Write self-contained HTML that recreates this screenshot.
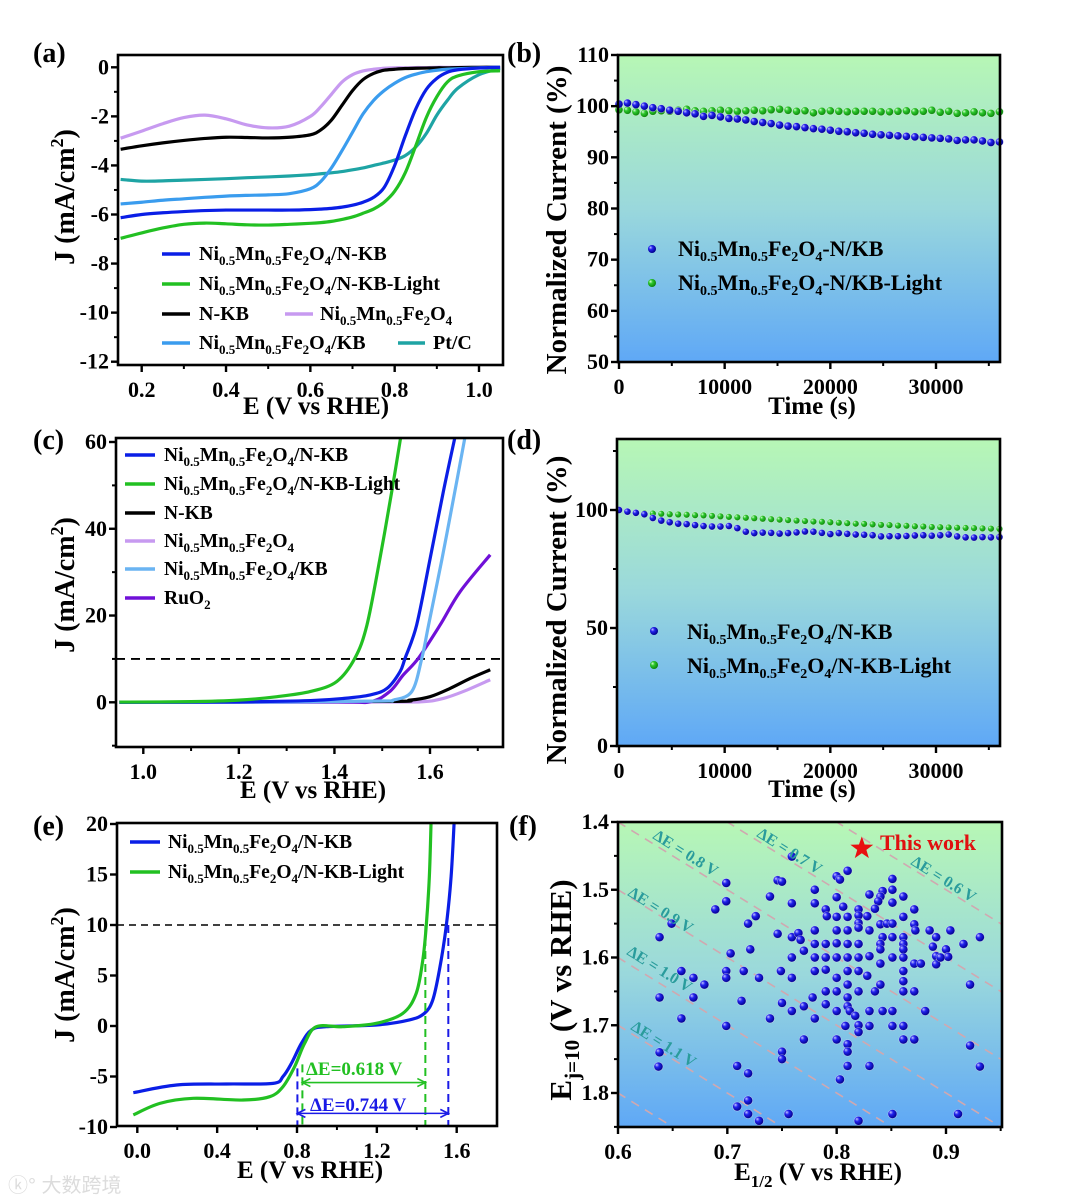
<!DOCTYPE html>
<html><head><meta charset="utf-8">
<style>
html,body{margin:0;padding:0;background:#fff;width:1080px;height:1202px;overflow:hidden;}
svg{display:block;font-family:"Liberation Serif","Noto Serif CJK SC",serif;font-weight:bold;}
.tk{font-size:22px;}
.lg{font-size:20px;}
.s{font-size:13px;}
.ti{font-size:25px;}
.pl{font-size:28px;}
</style></head>
<body>
<svg id="fig" width="1080" height="1202" viewBox="0 0 1080 1202" xmlns="http://www.w3.org/2000/svg">
<defs>
<linearGradient id="bg" x1="0" y1="0" x2="0" y2="1">
<stop offset="0" stop-color="#b7f7b5"/><stop offset="0.5" stop-color="#9ad8dc"/><stop offset="1" stop-color="#5fa8f6"/>
</linearGradient>
<radialGradient id="sb" cx="0.4" cy="0.4" r="0.6" fx="0.3" fy="0.3">
<stop offset="0" stop-color="#c8c8ff"/><stop offset="0.4" stop-color="#2222ee"/><stop offset="1" stop-color="#00008c"/>
</radialGradient>
<radialGradient id="sg" cx="0.4" cy="0.4" r="0.6" fx="0.3" fy="0.3">
<stop offset="0" stop-color="#d8ffd8"/><stop offset="0.4" stop-color="#2ec82e"/><stop offset="1" stop-color="#0a860a"/>
</radialGradient>
<clipPath id="cA"><rect x="118" y="55" width="385" height="310"/></clipPath>
<clipPath id="cC"><rect x="116" y="438" width="387" height="309"/></clipPath>
<clipPath id="cE"><rect x="117" y="823" width="380" height="303"/></clipPath>
<clipPath id="cF"><rect x="618" y="822" width="384" height="305"/></clipPath>
</defs>

<rect x="618" y="55" width="382" height="307" fill="url(#bg)"/>
<rect x="617" y="439" width="383" height="307" fill="url(#bg)"/>
<rect x="618" y="822" width="384" height="305" fill="url(#bg)"/>

<g id="gA"></g>
<g id="gB"></g>
<g id="gC"></g>
<g id="gD"></g>
<g id="gE"></g>
<g id="gF"></g>

<text class="pl" x="33" y="62">(a)</text>
<text class="pl" x="507" y="62">(b)</text>
<text class="pl" x="33" y="449">(c)</text>
<text class="pl" x="507" y="449">(d)</text>
<text class="pl" x="33" y="835">(e)</text>
<text class="pl" x="509" y="835">(f)</text>

<text style="font-size:28px" text-anchor="middle" transform="translate(74,197) rotate(-90)">J (mA/cm<tspan dy="-11" font-size="18">2</tspan><tspan dy="11">)</tspan></text>
<text class="ti" text-anchor="middle" x="316" y="414">E (V vs RHE)</text>
<text style="font-size:29px" text-anchor="middle" transform="translate(566,220) rotate(-90)">Normalized Current (%)</text>
<text class="ti" text-anchor="middle" x="812" y="414">Time (s)</text>
<text style="font-size:28px" text-anchor="middle" transform="translate(74,585) rotate(-90)">J (mA/cm<tspan dy="-11" font-size="18">2</tspan><tspan dy="11">)</tspan></text>
<text class="ti" text-anchor="middle" x="313" y="798">E (V vs RHE)</text>
<text style="font-size:29px" text-anchor="middle" transform="translate(566,610) rotate(-90)">Normalized Current (%)</text>
<text class="ti" text-anchor="middle" x="812" y="797">Time (s)</text>
<text style="font-size:28px" text-anchor="middle" transform="translate(74,975) rotate(-90)">J (mA/cm<tspan dy="-11" font-size="18">2</tspan><tspan dy="11">)</tspan></text>
<text class="ti" text-anchor="middle" x="310" y="1178">E (V vs RHE)</text>
<text style="font-size:31px" text-anchor="middle" transform="translate(571,990) rotate(-90)">E<tspan dy="8" font-size="21">j=10</tspan><tspan dy="-8"> (V vs RHE)</tspan></text>
<text class="ti" text-anchor="middle" x="818" y="1180">E<tspan dy="7" font-size="17">1/2</tspan><tspan dy="-7"> (V vs RHE)</tspan></text>

<g>
<line x1="162" y1="254" x2="190" y2="254" stroke="#0a1ee6" stroke-width="3.5"/>
<text class="lg" x="199" y="260">Ni<tspan class="s" dy="5">0.5</tspan><tspan dy="-5">Mn</tspan><tspan class="s" dy="5">0.5</tspan><tspan dy="-5">Fe</tspan><tspan class="s" dy="5">2</tspan><tspan dy="-5">O</tspan><tspan class="s" dy="5">4</tspan><tspan dy="-5">/N-KB</tspan></text>
<line x1="162" y1="284" x2="190" y2="284" stroke="#22c022" stroke-width="3.5"/>
<text class="lg" x="199" y="290">Ni<tspan class="s" dy="5">0.5</tspan><tspan dy="-5">Mn</tspan><tspan class="s" dy="5">0.5</tspan><tspan dy="-5">Fe</tspan><tspan class="s" dy="5">2</tspan><tspan dy="-5">O</tspan><tspan class="s" dy="5">4</tspan><tspan dy="-5">/N-KB-Light</tspan></text>
<line x1="162" y1="314" x2="190" y2="314" stroke="#000" stroke-width="3.5"/>
<text class="lg" x="199" y="320">N-KB</text>
<line x1="285" y1="314" x2="313" y2="314" stroke="#c79af0" stroke-width="3.5"/>
<text class="lg" x="320" y="320">Ni<tspan class="s" dy="5">0.5</tspan><tspan dy="-5">Mn</tspan><tspan class="s" dy="5">0.5</tspan><tspan dy="-5">Fe</tspan><tspan class="s" dy="5">2</tspan><tspan dy="-5">O</tspan><tspan class="s" dy="5">4</tspan></text>
<line x1="162" y1="343" x2="190" y2="343" stroke="#3a9cee" stroke-width="3.5"/>
<text class="lg" x="199" y="349">Ni<tspan class="s" dy="5">0.5</tspan><tspan dy="-5">Mn</tspan><tspan class="s" dy="5">0.5</tspan><tspan dy="-5">Fe</tspan><tspan class="s" dy="5">2</tspan><tspan dy="-5">O</tspan><tspan class="s" dy="5">4</tspan><tspan dy="-5">/KB</tspan></text>
<line x1="398" y1="343" x2="425" y2="343" stroke="#1ea4a4" stroke-width="3.5"/>
<text class="lg" x="433" y="349">Pt/C</text>
</g>

<g>
<circle cx="652" cy="249" r="4" fill="url(#sb)"/>
<text style="font-size:22px" x="678" y="256">Ni<tspan font-size="14" dy="5">0.5</tspan><tspan dy="-5">Mn</tspan><tspan font-size="14" dy="5">0.5</tspan><tspan dy="-5">Fe</tspan><tspan font-size="14" dy="5">2</tspan><tspan dy="-5">O</tspan><tspan font-size="14" dy="5">4</tspan><tspan dy="-5">-N/KB</tspan></text>
<circle cx="652" cy="283" r="4" fill="url(#sg)"/>
<text style="font-size:22px" x="678" y="290">Ni<tspan font-size="14" dy="5">0.5</tspan><tspan dy="-5">Mn</tspan><tspan font-size="14" dy="5">0.5</tspan><tspan dy="-5">Fe</tspan><tspan font-size="14" dy="5">2</tspan><tspan dy="-5">O</tspan><tspan font-size="14" dy="5">4</tspan><tspan dy="-5">-N/KB-Light</tspan></text>
</g>

<g>
<line x1="125" y1="455" x2="155" y2="455" stroke="#0a1ee6" stroke-width="3.5"/>
<text style="font-size:19.5px" x="164" y="461">Ni<tspan class="s" dy="5">0.5</tspan><tspan dy="-5">Mn</tspan><tspan class="s" dy="5">0.5</tspan><tspan dy="-5">Fe</tspan><tspan class="s" dy="5">2</tspan><tspan dy="-5">O</tspan><tspan class="s" dy="5">4</tspan><tspan dy="-5">/N-KB</tspan></text>
<line x1="125" y1="484" x2="155" y2="484" stroke="#22c022" stroke-width="3.5"/>
<text style="font-size:19.5px" x="164" y="490">Ni<tspan class="s" dy="5">0.5</tspan><tspan dy="-5">Mn</tspan><tspan class="s" dy="5">0.5</tspan><tspan dy="-5">Fe</tspan><tspan class="s" dy="5">2</tspan><tspan dy="-5">O</tspan><tspan class="s" dy="5">4</tspan><tspan dy="-5">/N-KB-Light</tspan></text>
<line x1="125" y1="513" x2="155" y2="513" stroke="#000" stroke-width="3.5"/>
<text style="font-size:19.5px" x="164" y="519">N-KB</text>
<line x1="125" y1="541" x2="155" y2="541" stroke="#c79af0" stroke-width="3.5"/>
<text style="font-size:19.5px" x="164" y="547">Ni<tspan class="s" dy="5">0.5</tspan><tspan dy="-5">Mn</tspan><tspan class="s" dy="5">0.5</tspan><tspan dy="-5">Fe</tspan><tspan class="s" dy="5">2</tspan><tspan dy="-5">O</tspan><tspan class="s" dy="5">4</tspan></text>
<line x1="125" y1="569" x2="155" y2="569" stroke="#6ab4f2" stroke-width="3.5"/>
<text style="font-size:19.5px" x="164" y="575">Ni<tspan class="s" dy="5">0.5</tspan><tspan dy="-5">Mn</tspan><tspan class="s" dy="5">0.5</tspan><tspan dy="-5">Fe</tspan><tspan class="s" dy="5">2</tspan><tspan dy="-5">O</tspan><tspan class="s" dy="5">4</tspan><tspan dy="-5">/KB</tspan></text>
<line x1="125" y1="598" x2="155" y2="598" stroke="#7010d8" stroke-width="3.5"/>
<text style="font-size:19.5px" x="164" y="604">RuO<tspan class="s" dy="5">2</tspan></text>
</g>

<g>
<circle cx="654" cy="631" r="4" fill="url(#sb)"/>
<text style="font-size:22px" x="687" y="639">Ni<tspan font-size="14" dy="5">0.5</tspan><tspan dy="-5">Mn</tspan><tspan font-size="14" dy="5">0.5</tspan><tspan dy="-5">Fe</tspan><tspan font-size="14" dy="5">2</tspan><tspan dy="-5">O</tspan><tspan font-size="14" dy="5">4</tspan><tspan dy="-5">/N-KB</tspan></text>
<circle cx="654" cy="665" r="4" fill="url(#sg)"/>
<text style="font-size:22px" x="687" y="673">Ni<tspan font-size="14" dy="5">0.5</tspan><tspan dy="-5">Mn</tspan><tspan font-size="14" dy="5">0.5</tspan><tspan dy="-5">Fe</tspan><tspan font-size="14" dy="5">2</tspan><tspan dy="-5">O</tspan><tspan font-size="14" dy="5">4</tspan><tspan dy="-5">/N-KB-Light</tspan></text>
</g>

<g>
<line x1="130" y1="842" x2="160" y2="842" stroke="#0a1ee6" stroke-width="3.5"/>
<text style="font-size:19.5px" x="168" y="848">Ni<tspan class="s" dy="5">0.5</tspan><tspan dy="-5">Mn</tspan><tspan class="s" dy="5">0.5</tspan><tspan dy="-5">Fe</tspan><tspan class="s" dy="5">2</tspan><tspan dy="-5">O</tspan><tspan class="s" dy="5">4</tspan><tspan dy="-5">/N-KB</tspan></text>
<line x1="130" y1="872" x2="160" y2="872" stroke="#22c022" stroke-width="3.5"/>
<text style="font-size:19.5px" x="168" y="878">Ni<tspan class="s" dy="5">0.5</tspan><tspan dy="-5">Mn</tspan><tspan class="s" dy="5">0.5</tspan><tspan dy="-5">Fe</tspan><tspan class="s" dy="5">2</tspan><tspan dy="-5">O</tspan><tspan class="s" dy="5">4</tspan><tspan dy="-5">/N-KB-Light</tspan></text>
</g>

<text x="306" y="1075" style="font-size:19px" fill="#22c022">ΔE=0.618 V</text>
<text x="310" y="1111" style="font-size:19px" fill="#1a1ae6">ΔE=0.744 V</text>

<g fill="#2a9c9c" style="font-size:16px">
<text transform="translate(652,838) rotate(32)">ΔE = 0.8 V</text>
<text transform="translate(756,836) rotate(32)">ΔE = 0.7 V</text>
<text transform="translate(910,864) rotate(32)">ΔE = 0.6 V</text>
<text transform="translate(627,895) rotate(32)">ΔE = 0.9 V</text>
<text transform="translate(626,954) rotate(32)">ΔE = 1.0 V</text>
<text transform="translate(630,1029) rotate(32)">ΔE = 1.1 V</text>
</g>
<text x="880" y="850" style="font-size:22px" fill="#e01010">This work</text>

<text x="8" y="1192" style="font-size:20px;font-weight:normal" fill="#dcdcdc" font-family="Liberation Sans, Noto Sans CJK SC, sans-serif">ⓚ° 大数跨境</text>
</svg>

<script>
const aE = [0.15,0.20,0.25,0.30,0.35,0.40,0.45,0.50,0.55,0.60,0.625,0.65,0.675,0.70,0.725,0.75,0.775,0.80,0.825,0.85,0.875,0.90,0.925,0.95,1.0,1.05];
const aNMF_NKB = [-6.13,-6.0,-5.93,-5.88,-5.84,-5.82,-5.82,-5.82,-5.82,-5.8,-5.78,-5.75,-5.7,-5.62,-5.5,-5.3,-4.9,-4.0,-2.8,-1.7,-0.9,-0.45,-0.2,-0.1,-0.03,0];
const aNMF_Light = [-6.97,-6.75,-6.55,-6.4,-6.35,-6.38,-6.42,-6.43,-6.4,-6.36,-6.33,-6.28,-6.2,-6.1,-5.95,-5.78,-5.5,-5.05,-4.3,-3.2,-2.05,-1.2,-0.6,-0.35,-0.18,-0.14];
const aNKB = [-3.34,-3.2,-3.08,-2.98,-2.9,-2.85,-2.86,-2.88,-2.85,-2.75,-2.55,-2.15,-1.55,-0.95,-0.5,-0.25,-0.12,-0.08,-0.05,-0.04,-0.03,-0.02,-0.02,-0.01,0,0];
const aNMF = [-2.89,-2.6,-2.3,-2.05,-1.95,-2.1,-2.35,-2.47,-2.4,-2.0,-1.6,-1.1,-0.6,-0.3,-0.15,-0.08,-0.04,-0.02,-0.02,-0.01,-0.01,0,0,0,0,0];
const aNMF_KB = [-5.57,-5.5,-5.42,-5.36,-5.3,-5.25,-5.22,-5.2,-5.15,-4.95,-4.65,-4.1,-3.4,-2.65,-1.9,-1.35,-0.95,-0.65,-0.42,-0.28,-0.18,-0.12,-0.08,-0.06,-0.02,0];
const aPtC = [-4.57,-4.64,-4.63,-4.6,-4.57,-4.54,-4.5,-4.47,-4.43,-4.38,-4.34,-4.3,-4.25,-4.18,-4.1,-4.0,-3.9,-3.78,-3.6,-3.25,-2.7,-1.95,-1.35,-0.85,-0.3,-0.05];
const aXTicks = [0.2,0.4,0.6,0.8,1.0];
const aYTicks = [0,-2,-4,-6,-8,-10,-12];

const bTime = [0,800,1600,2400,3200,4000,4800,5600,6400,7200,8000,8800,9600,10400,11200,12000,12800,13600,14400,15200,16000,16800,17600,18400,19200,20000,20800,21600,22400,23200,24000,24800,25600,26400,27200,28000,28800,29600,30400,31200,32000,32800,33600,34400,35200,36000];
const bDark = [100.4,100.6,100.3,100.0,99.7,99.5,99.2,99.0,98.7,98.5,98.0,98.2,97.9,97.6,97.5,97.3,97.0,96.8,96.6,96.3,96.1,96.0,95.8,95.6,95.5,95.3,95.1,95.0,94.8,94.7,94.5,94.4,94.3,94.2,94.1,94.0,93.9,93.8,93.7,93.6,93.3,93.4,93.4,93.2,92.9,93.0];
const bLight = [99.3,99.2,98.9,98.6,99.0,99.1,99.0,99.2,99.4,99.1,99.0,99.1,99.2,99.1,99.0,99.1,99.2,99.1,99.3,99.4,99.2,99.0,99.1,98.7,99.0,99.1,99.0,98.9,99.0,99.0,99.0,98.9,98.9,99.0,99.1,98.9,99.0,99.2,98.8,99.0,98.6,98.7,98.9,98.7,98.6,98.9];
const bXTicks = [0,10000,20000,30000];
const bYTicks = [50,60,70,80,90,100,110];

const cLightE = [0.95,1.1,1.2,1.28,1.35,1.405,1.443,1.468,1.495,1.52,1.54];
const cLightJ = [0.05,0.15,0.5,1.3,2.5,4.8,10.2,17.8,33,48.6,62];
const cDarkE = [0.95,1.2,1.35,1.42,1.475,1.51,1.537,1.548,1.572,1.6,1.628,1.652];
const cDarkJ = [0,0.1,0.4,0.9,1.7,3.2,7,10.2,17.8,33,48.6,61];
const cKBE = [0.95,1.3,1.5,1.523,1.562,1.583,1.597,1.625,1.652,1.673];
const cKBJ = [0,0.05,0.3,0.5,2.5,10.2,17.8,33,48.6,61];
const cRuE = [0.95,1.4,1.475,1.516,1.544,1.576,1.621,1.663,1.726];
const cRuJ = [0,0.05,0.15,2.5,6.3,10.2,17.8,25.5,34];
const cNKBE = [0.95,1.5,1.558,1.6,1.642,1.684,1.726];
const cNKBJ = [0,0.2,0.5,1.3,3.2,5.5,7.5];
const cNMFE = [0.95,1.5,1.586,1.628,1.67,1.726];
const cNMFJ = [0,0.05,0.15,0.9,2.5,5.2];
const cXTicks = [1.0,1.2,1.4,1.6];
const cYTicks = [0,20,40,60];
const cRefJ = 10;

const dTime = bTime;
const dDark = [100,99.3,98.8,98.2,96.6,95.5,94.8,94.2,94.0,93.6,93.2,93.0,93.0,93.2,92.3,90.8,90.2,90.4,90.3,90.0,90.2,90.5,90.9,90.8,90.3,89.8,90.2,89.9,89.6,89.5,89.3,88.8,88.9,88.9,89.0,89.2,89.3,89.1,89.3,89.6,88.8,88.4,88.3,88.5,88.4,88.5];
const dLight = [null,null,null,98.6,98.5,98.4,98.2,98.1,98.0,97.8,97.7,97.5,97.3,97.1,96.9,96.7,96.5,96.3,96.1,95.9,95.7,95.5,95.3,95.1,95.0,94.8,94.6,94.4,94.2,94.1,93.9,93.7,93.6,93.4,93.3,93.1,93.0,92.8,92.7,92.6,92.5,92.4,92.3,92.2,92.1,92.0];
const dYTicks = [0,50,100];

const eDarkE = [-0.02,0.197,0.447,0.68,0.73,0.772,0.822,0.872,0.947,1.197,1.363,1.438,1.48,1.513,1.547,1.572,1.588];
const eDarkJ = [-6.6,-5.84,-5.74,-5.68,-5.0,-3.7,-1.72,-0.4,-0.07,0.1,0.6,1.25,2.57,5.5,9.8,14.8,20.5];
const eLightE = [-0.02,0.113,0.28,0.53,0.663,0.73,0.788,0.838,0.897,1.03,1.197,1.33,1.397,1.43,1.447,1.463,1.472];
const eLightJ = [-8.8,-7.66,-7.16,-7.33,-7.0,-6.0,-4.03,-1.72,-0.07,-0.07,0.26,1.25,3.23,6.5,9.8,14.8,20.5];
const eHalfDark = 0.802, eHalfLight = 0.827, eJ10Dark = 1.558, eJ10Light = 1.443;
const eXTicks = [0.0,0.4,0.8,1.2,1.6];
const eYTicks = [-10,-5,0,5,10,15,20];

const fX = [0.759,0.810,0.800,0.803,0.699,0.746,0.750,0.851,0.780,0.842,0.851,0.830,0.861,0.800,0.739,0.699,0.759,0.780,0.840,0.838,0.851,0.689,0.806,0.820,0.835,0.790,0.871,0.726,0.719,0.649,0.791,0.800,0.810,0.828,0.820,0.861,0.820,0.840,0.846,0.851,0.871,0.872,0.638,0.746,0.759,0.765,0.767,0.780,0.800,0.810,0.830,0.820,0.842,0.851,0.861,0.885,0.891,0.904,0.916,0.931,0.703,0.721,0.770,0.780,0.790,0.800,0.810,0.820,0.840,0.840,0.861,0.861,0.888,0.891,0.900,0.902,0.759,0.780,0.790,0.800,0.810,0.820,0.830,0.851,0.861,0.871,0.877,0.891,0.895,0.658,0.669,0.679,0.699,0.699,0.715,0.729,0.749,0.759,0.780,0.790,0.800,0.810,0.820,0.828,0.840,0.861,0.861,0.638,0.669,0.713,0.750,0.759,0.770,0.778,0.790,0.800,0.810,0.810,0.820,0.835,0.840,0.861,0.871,0.922,0.658,0.739,0.780,0.790,0.800,0.810,0.812,0.817,0.830,0.842,0.851,0.881,0.699,0.808,0.820,0.820,0.830,0.851,0.861,0.770,0.800,0.810,0.810,0.861,0.871,0.922,0.638,0.637,0.750,0.750,0.709,0.719,0.810,0.830,0.803,0.931,0.709,0.719,0.719,0.729,0.756,0.820,0.851,0.911];
const fY = [1.451,1.472,1.480,1.485,1.490,1.486,1.488,1.484,1.500,1.502,1.500,1.507,1.510,1.511,1.510,1.517,1.520,1.520,1.510,1.517,1.519,1.529,1.525,1.529,1.528,1.529,1.529,1.539,1.550,1.550,1.539,1.540,1.540,1.539,1.538,1.540,1.549,1.551,1.550,1.550,1.551,1.560,1.570,1.565,1.570,1.564,1.574,1.560,1.560,1.560,1.560,1.556,1.570,1.570,1.570,1.560,1.570,1.560,1.580,1.570,1.594,1.588,1.590,1.580,1.580,1.579,1.580,1.580,1.580,1.588,1.580,1.588,1.584,1.598,1.588,1.599,1.600,1.600,1.600,1.600,1.600,1.600,1.598,1.600,1.600,1.609,1.609,1.610,1.600,1.620,1.630,1.640,1.620,1.630,1.620,1.630,1.620,1.630,1.620,1.618,1.630,1.620,1.620,1.627,1.609,1.620,1.635,1.659,1.659,1.664,1.667,1.679,1.672,1.659,1.650,1.650,1.640,1.659,1.650,1.650,1.640,1.650,1.650,1.640,1.690,1.690,1.690,1.669,1.679,1.672,1.679,1.686,1.679,1.679,1.679,1.679,1.701,1.701,1.700,1.710,1.701,1.701,1.701,1.721,1.721,1.728,1.739,1.721,1.721,1.730,1.740,1.761,1.739,1.750,1.760,1.771,1.760,1.760,1.780,1.761,1.820,1.811,1.831,1.841,1.831,1.841,1.831,1.831];
const fStarX = 0.823, fStarY = 1.439;
const fDeltaE = [0.6,0.7,0.8,0.9,1.0,1.1,1.2];
const fXTicks = [0.6,0.7,0.8,0.9];
const fYTicks = [1.4,1.5,1.6,1.7,1.8];

const NS = 'http://www.w3.org/2000/svg';
function lin(d0,d1,p0,p1){ return v => p0 + (v-d0)/(d1-d0)*(p1-p0); }
function mk(tag, attrs, parent){ const e=document.createElementNS(NS,tag); for(const k in attrs) e.setAttribute(k,attrs[k]); parent.appendChild(e); return e; }
function smoothPath(pts){
  if(pts.length<2) return '';
  let d='M'+pts[0][0].toFixed(2)+','+pts[0][1].toFixed(2);
  for(let i=0;i<pts.length-1;i++){
    const p0=pts[Math.max(0,i-1)], p1=pts[i], p2=pts[i+1], p3=pts[Math.min(pts.length-1,i+2)];
    const c1x=p1[0]+(p2[0]-p0[0])/6, c1y=p1[1]+(p2[1]-p0[1])/6;
    const c2x=p2[0]-(p3[0]-p1[0])/6, c2y=p2[1]-(p3[1]-p1[1])/6;
    d+='C'+c1x.toFixed(2)+','+c1y.toFixed(2)+' '+c2x.toFixed(2)+','+c2y.toFixed(2)+' '+p2[0].toFixed(2)+','+p2[1].toFixed(2);
  }
  return d;
}
function curve(g, xs, ys, sx, sy, color, clip, name){
  const pts=[]; for(let i=0;i<xs.length;i++) pts.push([sx(xs[i]), sy(ys[i])]);
  const p = mk('path',{d:smoothPath(pts), fill:'none', stroke:color, 'stroke-width':3.2, 'stroke-linejoin':'round','clip-path':'url(#'+clip+')'}, g);
  
  
}
function dots(g, xs, ys, sx, sy, fill, r, name){
  for(let i=0;i<xs.length;i++){
    if(ys[i]===null) continue;
    const c = mk('circle',{cx:sx(xs[i]), cy:sy(ys[i]), r:r, fill:fill, stroke:'#fff', 'stroke-width':0.6, 'stroke-opacity':0.5}, g);
    
    
  }
}
function fmt(v, dec){ return dec==null? String(v) : v.toFixed(dec); }
function axes(g, box, sx, sy, xt, xminor, yt, yminor, xdec, ydec){
  const fr = mk('rect',{x:box.l, y:box.t, width:box.r-box.l, height:box.b-box.t, fill:'none', stroke:'#000','stroke-width':2.6}, g);
  
  
  xt.forEach(v=>{
    const x=sx(v);
    mk('line',{x1:x,y1:box.b,x2:x,y2:box.b+7,stroke:'#000','stroke-width':2.4}, g);
    const t = mk('text',{x:x, y:box.b+32, 'text-anchor':'middle', class:'tk'}, g);
    t.textContent = fmt(v, xdec);
    
    
  });
  xminor.forEach(v=>{ const x=sx(v); mk('line',{x1:x,y1:box.b,x2:x,y2:box.b+4,stroke:'#000','stroke-width':2}, g); });
  yt.forEach(v=>{
    const y=sy(v);
    mk('line',{x1:box.l-7,y1:y,x2:box.l,y2:y,stroke:'#000','stroke-width':2.4}, g);
    const t = mk('text',{x:box.l-9, y:y+7, 'text-anchor':'end', class:'tk'}, g);
    t.textContent = fmt(v, ydec);
    
    
  });
  yminor.forEach(v=>{ const y=sy(v); mk('line',{x1:box.l-4,y1:y,x2:box.l,y2:y,stroke:'#000','stroke-width':2}, g); });
}

(function(){
  const g=document.getElementById('gA');
  const box={l:118,t:55,r:503,b:365};
  const sx=lin(0.2,1.0,141.7,479), sy=lin(0,-12,67.3,361.7);
  curve(g,aE,aPtC,sx,sy,'#1ea4a4','cA','curve-ptc');
  curve(g,aE,aNMF,sx,sy,'#c79af0','cA','curve-nmf');
  curve(g,aE,aNKB,sx,sy,'#000','cA','curve-nkb');
  curve(g,aE,aNMF_KB,sx,sy,'#3a9cee','cA','curve-nmf-kb');
  curve(g,aE,aNMF_Light,sx,sy,'#22c022','cA','curve-nmf-nkb-light');
  curve(g,aE,aNMF_NKB,sx,sy,'#0a1ee6','cA','curve-nmf-nkb');
  axes(g,box,sx,sy,aXTicks,[0.3,0.5,0.7,0.9],aYTicks,[-1,-3,-5,-7,-9,-11],1,null);
})();

(function(){
  const g=document.getElementById('gB');
  const box={l:618,t:55,r:1000,b:362};
  const sx=lin(0,30000,619,936), sy=lin(50,110,362,55);
  dots(g,bTime,bLight,sx,sy,'url(#sg)',4,'point-light');
  dots(g,bTime,bDark,sx,sy,'url(#sb)',4,'point-dark');
  axes(g,box,sx,sy,bXTicks,[5000,15000,25000,35000],bYTicks,[55,65,75,85,95,105],null,null);
})();

(function(){
  const g=document.getElementById('gC');
  const box={l:116,t:438,r:503,b:747};
  const sx=lin(1.0,1.6,143.3,430), sy=lin(0,60,702.3,442);
  const dl = mk('line',{x1:box.l,y1:sy(cRefJ),x2:box.r,y2:sy(cRefJ),stroke:'#000','stroke-width':1.8,'stroke-dasharray':'9,6'}, g);
  
  
  curve(g,cNMFE,cNMFJ,sx,sy,'#c79af0','cC','curve-nmf');
  curve(g,cNKBE,cNKBJ,sx,sy,'#000','cC','curve-nkb');
  curve(g,cRuE,cRuJ,sx,sy,'#7010d8','cC','curve-ruo2');
  curve(g,cKBE,cKBJ,sx,sy,'#6ab4f2','cC','curve-nmf-kb');
  curve(g,cDarkE,cDarkJ,sx,sy,'#0a1ee6','cC','curve-nmf-nkb');
  curve(g,cLightE,cLightJ,sx,sy,'#22c022','cC','curve-nmf-nkb-light');
  axes(g,box,sx,sy,cXTicks,[1.1,1.3,1.5,1.7],cYTicks,[-10,10,30,50],1,null);
})();

(function(){
  const g=document.getElementById('gD');
  const box={l:617,t:439,r:1000,b:746};
  const sx=lin(0,30000,619,936), sy=lin(0,100,746,510);
  dots(g,dTime,dLight,sx,sy,'url(#sg)',3.3,'point-light');
  dots(g,dTime,dDark,sx,sy,'url(#sb)',3.5,'point-dark');
  axes(g,box,sx,sy,bXTicks,[5000,15000,25000,35000],dYTicks,[25,75,125],null,null);
})();

(function(){
  const g=document.getElementById('gE');
  const box={l:117,t:823,r:497,b:1126};
  const sx=lin(0,1.6,137.3,456.7), sy=lin(0,10,1026,925);
  const dl = mk('line',{x1:box.l,y1:sy(10),x2:box.r,y2:sy(10),stroke:'#000','stroke-width':1.5,'stroke-dasharray':'7,5'}, g);
  
  
  curve(g,eDarkE,eDarkJ,sx,sy,'#0a1ee6','cE','curve-nmf-nkb');
  curve(g,eLightE,eLightJ,sx,sy,'#22c022','cE','curve-nmf-nkb-light');
  const vl=[[eHalfDark,-4.2,'#1a1ae6'],[eHalfLight,-3.8,'#22c022'],[eJ10Dark,10,'#1a1ae6'],[eJ10Light,10,'#22c022']];
  vl.forEach(v=>{
    const l = mk('line',{x1:sx(v[0]),y1:sy(v[1]),x2:sx(v[0]),y2:box.b,stroke:v[2],'stroke-width':2,'stroke-dasharray':'8,5'}, g);
    
    
  });
  function arrow(x1,x2,y,c,name){
    const a = mk('g',{}, g);
    
    
    mk('line',{x1:x1+2,y1:y,x2:x2-2,y2:y,stroke:c,'stroke-width':1.6}, a);
    mk('path',{d:'M'+(x1+8)+','+(y-4)+' L'+x1+','+y+' L'+(x1+8)+','+(y+4),fill:'none',stroke:c,'stroke-width':1.6}, a);
    mk('path',{d:'M'+(x2-8)+','+(y-4)+' L'+x2+','+y+' L'+(x2-8)+','+(y+4),fill:'none',stroke:c,'stroke-width':1.6}, a);
  }
  arrow(sx(eHalfLight),sx(eJ10Light),sy(-5.6),'#22c022','delta-e-arrow-light');
  arrow(sx(eHalfDark),sx(eJ10Dark),sy(-8.65),'#1a1ae6','delta-e-arrow-dark');
  axes(g,box,sx,sy,eXTicks,[0.2,0.6,1.0,1.4],eYTicks,[],1,null);
})();

(function(){
  const g=document.getElementById('gF');
  const box={l:618,t:822,r:1002,b:1127};
  const sx=lin(0.6,0.9,618,946), sy=lin(1.4,1.8,822,1093);
  fDeltaE.forEach(de=>{
    const l = mk('line',{x1:sx(0.55),y1:sy(0.55+de),x2:sx(1.0),y2:sy(1.0+de),stroke:'#d0a8b0','stroke-width':1.6,'stroke-dasharray':'9,7','clip-path':'url(#cF)'}, g);
    
    
  });
  dots(g,fX,fY,sx,sy,'url(#sb)',4.5,'literature-point');
  const cx=sx(fStarX), cy=sy(fStarY), R=12, r=4.8;
  let d='';
  for(let i=0;i<10;i++){ const a=-Math.PI/2+i*Math.PI/5; const rr=i%2?r:R; d+=(i?'L':'M')+(cx+rr*Math.cos(a)).toFixed(2)+','+(cy+rr*Math.sin(a)).toFixed(2); }
  const st = mk('path',{d:d+'Z',fill:'#e81010'}, g);
  
  
  axes(g,box,sx,sy,fXTicks,[0.65,0.75,0.85,0.95],fYTicks,[1.45,1.55,1.65,1.75,1.85],1,1);
})();
</script>
</body></html>
